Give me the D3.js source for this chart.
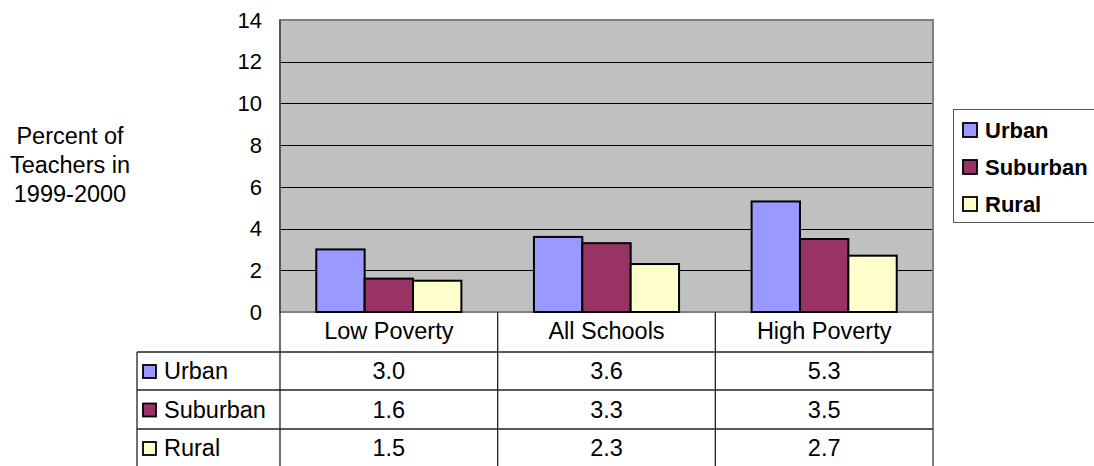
<!DOCTYPE html>
<html>
<head>
<meta charset="utf-8">
<script src="https://cdn.jsdelivr.net/npm/d3@7/dist/d3.min.js"></script>
<style>
  body { margin: 0; background: #fff; }
  svg { display: block; font-family: "Liberation Sans", Arial, sans-serif; }
</style>
</head>
<body>
<svg id="chart" width="1094" height="466"></svg>
<script>
// Teacher share by school poverty level and locale
const categories = ["Low Poverty", "All Schools", "High Poverty"];
const seriesNames = ["Urban", "Suburban", "Rural"];
const urban = [3.0, 3.6, 5.3];
const suburban = [1.6, 3.3, 3.5];
const rural = [1.5, 2.3, 2.7];
const yTicks = [0, 2, 4, 6, 8, 10, 12, 14];
const colors = ["#9999FF", "#993366", "#FFFFCC"];

const seriesValues = [urban, suburban, rural];
const FS = 22;      // tick labels, legend
const FS_T = 23.5;  // table text, axis title

const svg = d3.select("#chart");
const plot = { left: 280, right: 933, top: 20, bottom: 312 };

const y = d3.scaleLinear().domain([0, 14]).range([plot.bottom, plot.top]);
const x0 = d3.scaleBand().domain(categories).range([plot.left, plot.right]).paddingInner(0).paddingOuter(0);
// 150% gap between groups relative to bar width
const innerWidth = x0.bandwidth();
const barW = innerWidth / (seriesNames.length + 1.5);
const x1 = d3.scaleBand().domain(seriesNames)
  .range([barW * 0.75, barW * 0.75 + barW * seriesNames.length]).padding(0);

// plot background
svg.append("rect")
  .attr("x", plot.left).attr("y", plot.top)
  .attr("width", plot.right - plot.left).attr("height", plot.bottom - plot.top)
  .attr("fill", "#C0C0C0");

// gridlines
svg.append("g").selectAll("line")
  .data(yTicks.filter(d => d > 0 && d < 14))
  .join("line")
  .attr("x1", plot.left).attr("x2", plot.right)
  .attr("y1", d => Math.round(y(d)) + 0.5).attr("y2", d => Math.round(y(d)) + 0.5)
  .attr("stroke", "#000").attr("stroke-width", 1);

// plot border
svg.append("rect")
  .attr("x", plot.left).attr("y", plot.top)
  .attr("width", plot.right - plot.left).attr("height", plot.bottom - plot.top)
  .attr("fill", "none").attr("stroke", "#808080").attr("stroke-width", 2);
svg.append("line")
  .attr("x1", plot.left).attr("x2", plot.left)
  .attr("y1", plot.top).attr("y2", plot.bottom)
  .attr("stroke", "#555").attr("stroke-width", 2);

// bars
const groups = svg.append("g").selectAll("g")
  .data(categories)
  .join("g")
  .attr("transform", d => `translate(${x0(d)},0)`);

groups.selectAll("rect")
  .data((d, i) => seriesNames.map((s, j) => ({ s, v: seriesValues[j][i], j })))
  .join("rect")
  .attr("x", d => x1(d.s))
  .attr("width", x1.bandwidth())
  .attr("y", d => y(d.v))
  .attr("height", d => y(0) - y(d.v))
  .attr("fill", d => colors[d.j])
  .attr("stroke", "#000")
  .attr("stroke-width", 2);

// y axis labels
const yAxis = d3.axisLeft(y).tickValues(yTicks).tickSize(0).tickPadding(18);
const ya = svg.append("g").attr("transform", `translate(${plot.left},0)`).call(yAxis);
ya.select(".domain").remove();
ya.selectAll("text").attr("font-size", FS).attr("fill", "#000")
  .attr("dy", "0.33em")
  .attr("font-family", "'Liberation Sans', Arial, sans-serif");

// y axis title
const yTitle = svg.append("text")
  .attr("text-anchor", "middle")
  .attr("font-size", FS_T)
  .attr("fill", "#000");
["Percent of", "Teachers in", "1999-2000"].forEach((t, i) => {
  yTitle.append("tspan").attr("x", 70).attr("y", 144 + i * 29).text(t);
});

// data table
const table = { left: 137, headerBottom: 352, rows: [352, 390, 429, 467] };
const lineColor = "#222";
const tg = svg.append("g");

// vertical lines
const colEdges = [plot.left, ...categories.map(c => x0(c) + x0.bandwidth())];
colEdges.forEach((xv, i) => {
  tg.append("line")
    .attr("x1", xv).attr("x2", xv)
    .attr("y1", plot.bottom)
    .attr("y2", 466)
    .attr("stroke", i === colEdges.length - 1 ? "#808080" : lineColor)
    .attr("stroke-width", i === colEdges.length - 1 ? 2 : 1.3);
});
tg.append("line")
  .attr("x1", table.left).attr("x2", table.left)
  .attr("y1", table.headerBottom).attr("y2", 466)
  .attr("stroke", lineColor).attr("stroke-width", 1.3);

// horizontal lines
table.rows.slice(0, 3).forEach(yy => {
  tg.append("line")
    .attr("x1", table.left).attr("x2", plot.right)
    .attr("y1", yy).attr("y2", yy)
    .attr("stroke", lineColor).attr("stroke-width", 1.3);
});

// category header labels
tg.selectAll("text.cat")
  .data(categories)
  .join("text")
  .attr("class", "cat")
  .attr("x", d => x0(d) + x0.bandwidth() / 2)
  .attr("y", 339)
  .attr("text-anchor", "middle")
  .attr("font-size", FS_T)
  .text(d => d);

// table rows
seriesNames.forEach((s, j) => {
  const cy = (table.rows[j] + table.rows[j + 1]) / 2;
  tg.append("rect")
    .attr("x", 143).attr("y", cy - 6)
    .attr("width", 13).attr("height", 13)
    .attr("fill", colors[j]).attr("stroke", "#000").attr("stroke-width", 1.8);
  tg.append("text")
    .attr("x", 164).attr("y", cy + 8)
    .attr("font-size", FS_T)
    .text(s);
  categories.forEach((c, i) => {
    tg.append("text")
      .attr("x", x0(c) + x0.bandwidth() / 2)
      .attr("y", cy + 8)
      .attr("text-anchor", "middle")
      .attr("font-size", FS_T)
      .text(seriesValues[j][i].toFixed(1));
  });
});

// legend
const lg = svg.append("g");
lg.append("rect")
  .attr("x", 953.5).attr("y", 109.5)
  .attr("width", 160).attr("height", 113)
  .attr("fill", "#fff").attr("stroke", "#555").attr("stroke-width", 1);
const legendRows = [130, 167, 204];
seriesNames.forEach((s, j) => {
  lg.append("rect")
    .attr("x", 963).attr("y", legendRows[j] - 7)
    .attr("width", 14).attr("height", 14)
    .attr("fill", colors[j]).attr("stroke", "#000").attr("stroke-width", 1.8);
  lg.append("text")
    .attr("x", 985).attr("y", legendRows[j] + 8)
    .attr("font-size", FS).attr("font-weight", "bold")
    .text(s);
});
</script>
</body>
</html>
